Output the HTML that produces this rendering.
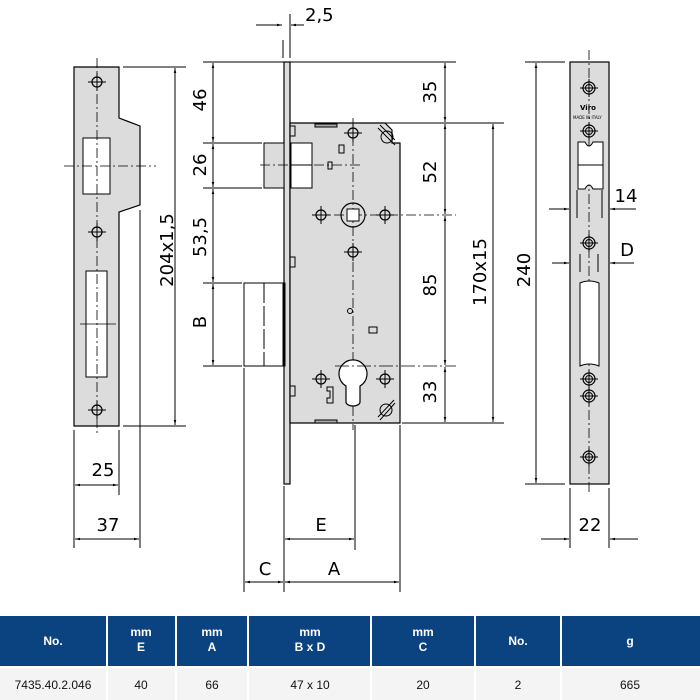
<!DOCTYPE html>
<html><head><meta charset="utf-8"><style>
html,body{margin:0;padding:0;background:#fff;}
svg{display:block}
text{font-family:"DejaVu Sans","Liberation Sans",sans-serif;fill:#000}
.t{font-family:"Liberation Sans",sans-serif;font-size:12px;font-weight:bold;fill:#fff}
.d{font-family:"Liberation Sans",sans-serif;font-size:12px;fill:#111}
</style></head><body>
<svg width="700" height="700" viewBox="0 0 700 700" xmlns="http://www.w3.org/2000/svg">
<defs>
<marker id="a" viewBox="0 0 10 10" refX="10" refY="5" markerWidth="8" markerHeight="5" orient="auto-start-reverse"><path d="M0,2.5 L10,5 L0,7.5 z" fill="#000"/></marker>
<g id="h"><circle r="5" fill="none" stroke="#000" stroke-width="1.2"/><line x1="-9" y1="0" x2="9" y2="0" stroke="#000"/><line x1="0" y1="-9" x2="0" y2="9" stroke="#000"/></g>
<g id="s"><circle r="6" fill="none" stroke="#000" stroke-width="1.2"/><circle r="3.5" fill="none" stroke="#000" stroke-width="1"/><line x1="-9" y1="0" x2="9" y2="0" stroke="#000"/><line x1="0" y1="-9" x2="0" y2="9" stroke="#000"/></g>
</defs>
<g stroke="#000" stroke-width="1" fill="none">
<!-- strike plate -->
<path d="M74,67 H119 V118 L140,126 V205 L119,212 V426 H74 Z" fill="#dcdcdc" stroke-width="1.2"/>
<rect x="83" y="138" width="27" height="56" fill="#fff"/>
<rect x="86" y="271" width="21" height="106" fill="#fff"/>
<line x1="97" y1="58" x2="97" y2="436" stroke-dasharray="10,3,2,3" stroke-width="0.8"/>
<line x1="64" y1="166" x2="156" y2="166" stroke-dasharray="10,3,2,3" stroke-width="0.8"/>
<line x1="80" y1="324" x2="116" y2="324" stroke-width="0.8"/>
<use href="#h" x="97" y="82"/><use href="#h" x="97" y="232"/><use href="#h" x="97" y="410"/>
<line x1="123" y1="67" x2="186" y2="67"/><line x1="123" y1="426" x2="186" y2="426"/>
<line x1="175" y1="68" x2="175" y2="425" marker-start="url(#a)" marker-end="url(#a)"/>
<line x1="74" y1="430" x2="74" y2="548"/><line x1="119" y1="430" x2="119" y2="495"/><line x1="140" y1="210" x2="140" y2="548"/>
<line x1="75" y1="485" x2="118" y2="485" marker-start="url(#a)" marker-end="url(#a)"/>
<line x1="75" y1="539" x2="139" y2="539" marker-start="url(#a)" marker-end="url(#a)"/>

<!-- middle lock -->
<rect x="284" y="62" width="6" height="422" fill="#dcdcdc" stroke-width="1.2"/>
<path d="M290,123 H385 L392,130 V143 H400 V423 H290 Z" fill="#dcdcdc" stroke-width="1.2"/>
<rect x="264" y="143" width="20" height="45" fill="#dcdcdc"/>
<rect x="291" y="143" width="21" height="45" fill="#fff"/>
<line x1="291" y1="165" x2="312" y2="165"/>
<rect x="244" y="283" width="40" height="83" fill="#fff"/>
<line x1="264" y1="283" x2="264" y2="366" stroke-dasharray="20,3"/>
<rect x="283" y="283" width="2" height="83" fill="#000"/>
<rect x="290" y="126" width="5" height="10"/><rect x="290" y="257" width="5" height="10"/><rect x="290" y="386" width="5" height="10"/>
<rect x="315" y="124" width="22" height="3" fill="#aaa"/><rect x="315" y="420" width="22" height="3" fill="#aaa"/>
<rect x="339" y="145" width="5" height="8"/><rect x="328" y="162" width="4" height="7"/>
<line x1="353" y1="118" x2="353" y2="430" stroke-dasharray="10,3,2,3" stroke-width="0.8"/>
<line x1="260" y1="165" x2="362" y2="165" stroke-dasharray="10,3,2,3" stroke-width="0.8"/>
<line x1="316" y1="215" x2="456" y2="215" stroke-dasharray="10,3,2,3" stroke-width="0.8"/>
<use href="#h" x="353" y="133"/><use href="#h" x="321" y="215"/><use href="#h" x="385" y="215"/><use href="#h" x="353" y="252"/>
<circle cx="353" cy="215" r="12" stroke-width="1.2"/><rect x="347" y="209" width="12" height="12" fill="#fff"/>
<circle cx="350" cy="311" r="2.5"/><rect x="369" y="327" width="8" height="6"/>
<path d="M346,386 A14,14 0 1 1 360,386 V402 A7,4 0 0 1 346,402 Z" fill="#fff" stroke-width="1.2"/>
<line x1="335" y1="366" x2="456" y2="366" stroke-dasharray="14,3,2,3" stroke-width="0.8"/>
<use href="#h" x="321" y="379"/><use href="#h" x="385" y="379"/>
<path d="M327,387 H333 V403 H327 V398 H330 V391 H327 Z"/>
<path d="M378,128 L395,145 M380,125 L395,140"/><path d="M380,420 L395,403 M378,417 L394,400"/>
<circle cx="387" cy="137" r="6"/><circle cx="386" cy="410" r="6"/>
<!-- middle dims -->
<line x1="283" y1="40" x2="283" y2="58"/><line x1="290" y1="14" x2="290" y2="58"/>
<line x1="256" y1="25" x2="282" y2="25" marker-end="url(#a)"/><line x1="304" y1="25" x2="291" y2="25" marker-end="url(#a)"/>
<line x1="203" y1="62" x2="456" y2="62"/><line x1="292" y1="123" x2="504" y2="123"/>
<line x1="203" y1="143" x2="262" y2="143"/><line x1="203" y1="188" x2="262" y2="188"/>
<line x1="203" y1="283" x2="242" y2="283"/><line x1="203" y1="366" x2="242" y2="366"/>
<line x1="402" y1="423" x2="504" y2="423"/>
<line x1="213" y1="63" x2="213" y2="142" marker-start="url(#a)" marker-end="url(#a)"/>
<line x1="213" y1="144" x2="213" y2="187" marker-start="url(#a)" marker-end="url(#a)"/>
<line x1="213" y1="189" x2="213" y2="282" marker-start="url(#a)" marker-end="url(#a)"/>
<line x1="213" y1="284" x2="213" y2="365" marker-start="url(#a)" marker-end="url(#a)"/>
<line x1="445" y1="63" x2="445" y2="122" marker-start="url(#a)" marker-end="url(#a)"/>
<line x1="445" y1="124" x2="445" y2="214" marker-start="url(#a)" marker-end="url(#a)"/>
<line x1="445" y1="216" x2="445" y2="365" marker-start="url(#a)" marker-end="url(#a)"/>
<line x1="445" y1="367" x2="445" y2="422" marker-start="url(#a)" marker-end="url(#a)"/>
<line x1="493" y1="124" x2="493" y2="422" marker-start="url(#a)" marker-end="url(#a)"/>
<line x1="244" y1="368" x2="244" y2="592"/><line x1="284" y1="486" x2="284" y2="592"/><line x1="400" y1="425" x2="400" y2="592"/><line x1="355" y1="425" x2="355" y2="550"/>
<line x1="285" y1="539" x2="354" y2="539" marker-start="url(#a)" marker-end="url(#a)"/>
<line x1="245" y1="582" x2="283" y2="582" marker-start="url(#a)" marker-end="url(#a)"/>
<line x1="285" y1="582" x2="399" y2="582" marker-start="url(#a)" marker-end="url(#a)"/>

<!-- right faceplate -->
<rect x="570" y="62" width="39" height="422" fill="#dcdcdc" stroke-width="1.2"/>
<line x1="589" y1="50" x2="589" y2="494" stroke-dasharray="10,3,2,3" stroke-width="0.8"/>
<path d="M578,142 H585 Q589,150 593,142 H603 V189 H593 Q589,181 585,189 H578 Z" fill="#fff"/>
<line x1="578" y1="165" x2="603" y2="165"/>
<path d="M580,283 Q589,279 599,283 V366 Q589,362 580,366 Z" fill="#fff"/>
<use href="#s" x="589" y="88"/><use href="#s" x="589" y="131"/><use href="#s" x="589" y="243"/><use href="#s" x="589" y="379"/><use href="#s" x="589" y="396"/><use href="#s" x="589" y="457"/>
<line x1="525" y1="62" x2="565" y2="62"/><line x1="525" y1="484" x2="565" y2="484"/>
<line x1="536" y1="63" x2="536" y2="483" marker-start="url(#a)" marker-end="url(#a)"/>
<line x1="577" y1="190" x2="577" y2="218"/><line x1="602" y1="190" x2="602" y2="218"/>
<line x1="549" y1="209" x2="569" y2="209" marker-end="url(#a)"/><line x1="636" y1="209" x2="610" y2="209" marker-end="url(#a)"/>
<line x1="580" y1="254" x2="580" y2="272"/><line x1="598" y1="254" x2="598" y2="272"/>
<line x1="552" y1="263" x2="569" y2="263" marker-end="url(#a)"/><line x1="634" y1="263" x2="610" y2="263" marker-end="url(#a)"/>
<line x1="570" y1="488" x2="570" y2="548"/><line x1="609" y1="488" x2="609" y2="548"/>
<line x1="541" y1="539" x2="569" y2="539" marker-end="url(#a)"/><line x1="638" y1="539" x2="610" y2="539" marker-end="url(#a)"/>
</g>
<text x="580" y="110" font-size="7" font-weight="bold">Viro</text>
<text x="573" y="119" font-size="4">MADE IN ITALY</text>
<!-- labels -->
<g font-size="18">
<text x="103" y="476" text-anchor="middle">25</text>
<text x="108" y="531" text-anchor="middle">37</text>
<text x="167" y="250" text-anchor="middle" transform="rotate(-90 167 250)" dy="6">204x1,5</text>
<text x="305" y="21">2,5</text>
<text x="200" y="100" text-anchor="middle" transform="rotate(-90 200 100)" dy="6">46</text>
<text x="200" y="165" text-anchor="middle" transform="rotate(-90 200 165)" dy="6">26</text>
<text x="200" y="237" text-anchor="middle" transform="rotate(-90 200 237)" dy="6">53,5</text>
<text x="200" y="322" text-anchor="middle" transform="rotate(-90 200 322)" dy="6">B</text>
<text x="430" y="92" text-anchor="middle" transform="rotate(-90 430 92)" dy="6">35</text>
<text x="430" y="172" text-anchor="middle" transform="rotate(-90 430 172)" dy="6">52</text>
<text x="430" y="285" text-anchor="middle" transform="rotate(-90 430 285)" dy="6">85</text>
<text x="430" y="392" text-anchor="middle" transform="rotate(-90 430 392)" dy="6">33</text>
<text x="480" y="272" text-anchor="middle" transform="rotate(-90 480 272)" dy="6">170x15</text>
<text x="321" y="531" text-anchor="middle">E</text>
<text x="265" y="575" text-anchor="middle">C</text>
<text x="334" y="575" text-anchor="middle">A</text>
<text x="524" y="270" text-anchor="middle" transform="rotate(-90 524 270)" dy="6">240</text>
<text x="626" y="202" text-anchor="middle">14</text>
<text x="627" y="256" text-anchor="middle">D</text>
<text x="590" y="531" text-anchor="middle">22</text>
</g>
<!-- table -->
<rect x="0" y="616" width="700" height="50" fill="#0b4380"/>
<rect x="0" y="668" width="700" height="32" fill="#f4f4f4"/>
<g stroke="#fff" stroke-width="2">
<line x1="107" y1="616" x2="107" y2="700"/><line x1="176" y1="616" x2="176" y2="700"/><line x1="248" y1="616" x2="248" y2="700"/><line x1="371" y1="616" x2="371" y2="700"/><line x1="475" y1="616" x2="475" y2="700"/><line x1="561" y1="616" x2="561" y2="700"/>
<line x1="0" y1="667" x2="700" y2="667"/>
</g>
<g text-anchor="middle">
<text class="t" x="53" y="645">No.</text>
<text class="t" x="141" y="636">mm</text><text class="t" x="141" y="651">E</text>
<text class="t" x="212" y="636">mm</text><text class="t" x="212" y="651">A</text>
<text class="t" x="310" y="636">mm</text><text class="t" x="310" y="651">B x D</text>
<text class="t" x="423" y="636">mm</text><text class="t" x="423" y="651">C</text>
<text class="t" x="518" y="645">No.</text>
<text class="t" x="630" y="645">g</text>
<text class="d" x="53" y="689">7435.40.2.046</text>
<text class="d" x="141" y="689">40</text>
<text class="d" x="212" y="689">66</text>
<text class="d" x="310" y="689">47 x 10</text>
<text class="d" x="423" y="689">20</text>
<text class="d" x="518" y="689">2</text>
<text class="d" x="630" y="689">665</text>
</g>
</svg>
</body></html>
